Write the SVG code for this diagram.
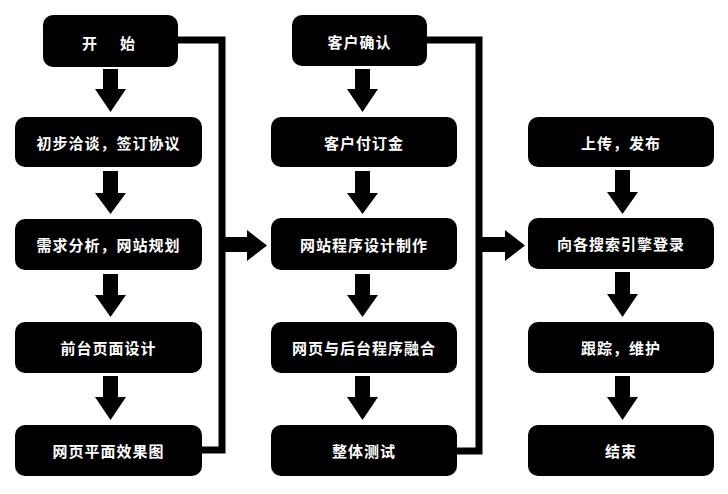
<svg xmlns="http://www.w3.org/2000/svg" width="728" height="494" viewBox="0 0 728 494">
<style>
.box{fill:#000}
.t{fill:#fff;font-family:"Noto Sans CJK SC","Noto Sans CJK TC",sans-serif;font-weight:bold;font-size:15px;letter-spacing:1px;text-anchor:middle;dominant-baseline:central}
.ln{fill:none;stroke:#000;stroke-width:7}
.ar{fill:#000}
</style>
<rect width="728" height="494" fill="#fff"/>
<g id="connectors">
<polyline class="ln" points="178,40 222,40 222,450 202,450"/>
<polyline class="ln" points="427,40 479,40 479,451 457,451"/>
<path class="ar" d="M225,237 H247 V230 L267,245.5 L247,261 V252 H225 Z"/>
<path class="ar" d="M482,237 H505 V230 L525,245.5 L505,261 V252 H482 Z"/>
<path class="ar" d="M103,69 h15 v20 h8 L110.5,112 L95,89 h8 Z"/>
<path class="ar" d="M103,171 h15 v22 h8 L110.5,214 L95,193 h8 Z"/>
<path class="ar" d="M103,274 h15 v21 h8 L110.5,317 L95,295 h8 Z"/>
<path class="ar" d="M103,376 h15 v21 h8 L110.5,420 L95,397 h8 Z"/>
<path class="ar" d="M355,69 h15 v20 h8 L362.5,112 L347,89 h8 Z"/>
<path class="ar" d="M355,171 h15 v22 h8 L362.5,214 L347,193 h8 Z"/>
<path class="ar" d="M355,274 h15 v21 h8 L362.5,317 L347,295 h8 Z"/>
<path class="ar" d="M355,376 h15 v21 h8 L362.5,420 L347,397 h8 Z"/>
<path class="ar" d="M615,170 h15 v22 h8 L622.5,214 L607,192 h8 Z"/>
<path class="ar" d="M615,272 h15 v22 h8 L622.5,317 L607,294 h8 Z"/>
<path class="ar" d="M615,376 h15 v21 h8 L622.5,420 L607,397 h8 Z"/>
</g>
<g id="n1"><rect class="box" x="43" y="15" width="135" height="52" rx="10"/><text class="t" x="110.5" y="42" style="letter-spacing:4px">开　始</text></g>
<g id="n2"><rect class="box" x="15" y="117" width="187" height="50" rx="10"/><text class="t" x="108.5" y="142">初步洽谈，签订协议</text></g>
<g id="n3"><rect class="box" x="15" y="219" width="187" height="51" rx="10"/><text class="t" x="108.5" y="244.5">需求分析，网站规划</text></g>
<g id="n4"><rect class="box" x="15" y="322" width="187" height="51" rx="10"/><text class="t" x="108.5" y="347.5">前台页面设计</text></g>
<g id="n5"><rect class="box" x="15" y="425" width="187" height="51" rx="10"/><text class="t" x="108.5" y="450.5">网页平面效果图</text></g>
<g id="n6"><rect class="box" x="292" y="15" width="135" height="51" rx="10"/><text class="t" x="359.5" y="41">客户确认</text></g>
<g id="n7"><rect class="box" x="271" y="117" width="186" height="50" rx="10"/><text class="t" x="364" y="142">客户付订金</text></g>
<g id="n8"><rect class="box" x="271" y="218" width="186" height="52" rx="10"/><text class="t" x="364" y="244">网站程序设计制作</text></g>
<g id="n9"><rect class="box" x="271" y="322" width="186" height="51" rx="10"/><text class="t" x="364" y="347.5">网页与后台程序融合</text></g>
<g id="n10"><rect class="box" x="271" y="425" width="186" height="51" rx="10"/><text class="t" x="364" y="450.5">整体测试</text></g>
<g id="n11"><rect class="box" x="528" y="117" width="186" height="50" rx="10"/><text class="t" x="621" y="142">上传，发布</text></g>
<g id="n12"><rect class="box" x="528" y="218" width="186" height="51" rx="10"/><text class="t" x="621" y="243.5">向各搜索引擎登录</text></g>
<g id="n13"><rect class="box" x="528" y="322" width="186" height="51" rx="10"/><text class="t" x="621" y="347.5">跟踪，维护</text></g>
<g id="n14"><rect class="box" x="528" y="425" width="186" height="51" rx="10"/><text class="t" x="621" y="450.5">结束</text></g>
</svg>
